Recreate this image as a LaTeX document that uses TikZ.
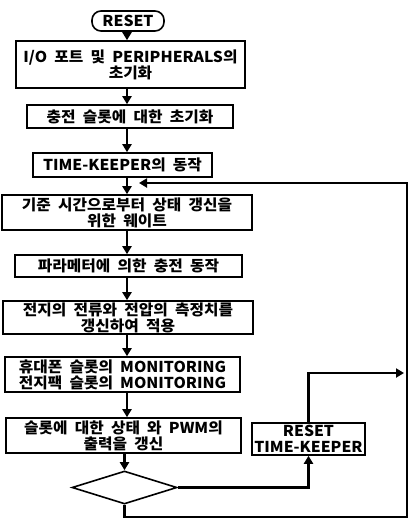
\documentclass[tikz,border=0pt]{standalone}
\usepackage{fontspec}
\setmainfont{Noto Sans CJK KR}[FakeStretch=1.05, WordSpace=2.0]
\usetikzlibrary{arrows.meta, shapes.geometric}
\begin{document}
\begin{tikzpicture}[x=1pt, y=-1pt,
  box/.style={draw, line width=1.6pt, inner sep=0pt, align=center,
    font=\fontsize{15}{16}\selectfont\bfseries},
  conn/.style={line width=2.4pt, -{Triangle[width=9pt,length=8pt]}},
  plain/.style={line width=2.4pt}]
\fill[white] (0,0) rectangle (408,522);
\useasboundingbox (0,0) rectangle (408,522);
\coordinate (mx) at (127,0);
% main column
\node[box, rounded corners=9pt, minimum width=72pt, minimum height=20pt] (r) at (128,21) {RESET};
\node[box, minimum width=229pt, minimum height=47pt] (b1) at (130.5,64.5) {I/O 포트 및 PERIPHERALS의\\초기화};
\node[box, minimum width=206pt, minimum height=23pt] (b2) at (130,116.5) {충전 슬롯에 대한 초기화};
\node[box, minimum width=179pt, minimum height=24pt] (b3) at (122.5,165) {TIME-KEEPER의 동작};
\node[box, minimum width=250pt, minimum height=35pt] (b4) at (127,212.5) {기준 시간으로부터 상태 갱신을\\위한 웨이트};
\node[box, minimum width=227pt, minimum height=22pt] (b5) at (128.5,266) {파라메터에 의한 충전 동작};
\node[box, minimum width=250pt, minimum height=33pt] (b6) at (128,317.5) {전지의 전류와 전압의 측정치를\\갱신하여 적용};
\node[box, minimum width=235pt, minimum height=35pt] (b7) at (122.5,374.5) {휴대폰 슬롯의 MONITORING\\전지팩 슬롯의 MONITORING};
\node[box, minimum width=235pt, minimum height=35pt] (b8) at (123.5,435.5) {슬롯에 대한 상태 와 PWM의\\출력을 갱신};
\node[draw, line width=1.6pt, shape=diamond, inner sep=0pt, minimum width=105pt, minimum height=33pt] (d) at (124.5,487.5) {};
\node[box, minimum width=113pt, minimum height=32pt] (rtk) at (308.5,439) {RESET\\TIME-KEEPER};
% feedback coordinates
\coordinate (fbR) at (404,373);
\coordinate (fbB) at (407,517);
\coordinate (fbT) at (407,183);
\coordinate (fbE) at (139,183);
% main connectors
\draw[conn] (r.south -| mx) -- (b1.north -| mx);
\draw[conn] (b1.south -| mx) -- (b2.north -| mx);
\draw[conn] (b2.south -| mx) -- (b3.north -| mx);
\draw[conn] (b3.south -| mx) -- (b4.north -| mx);
\draw[conn] (b4.south -| mx) -- (b5.north -| mx);
\draw[conn] (b5.south -| mx) -- (b6.north -| mx);
\draw[conn] (b6.south -| mx) -- (b7.north -| mx);
\draw[conn] (b7.south -| mx) -- (b8.north -| mx);
\draw[conn] (b8.south -| d) -- (d.north);
% side branch
\draw[conn] (d.east) -| (rtk.south);
\draw[conn] (rtk.north) |- (fbR);
\draw[conn] (d.south) |- (fbB) -- (fbT) -- (fbE);
\end{tikzpicture}
\end{document}
